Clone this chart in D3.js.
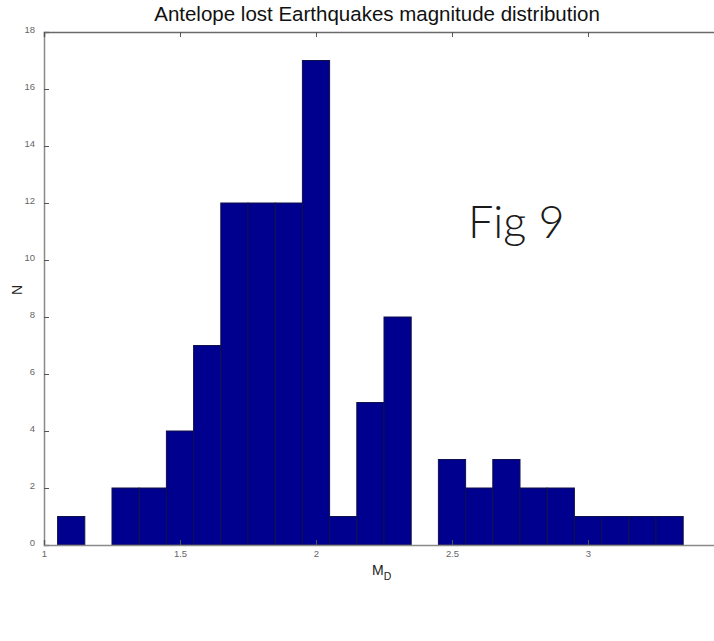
<!DOCTYPE html>
<html>
<head>
<meta charset="utf-8">
<script src="https://cdn.jsdelivr.net/npm/d3@7"></script>
<style>
  html, body { margin: 0; padding: 0; background: #fff; }
  svg { display: block; }
</style>
</head>
<body>
<script>
// Histogram of event magnitudes (bin centres, width 0.1)
const binCenters = [1.1, 1.2, 1.3, 1.4, 1.5, 1.6, 1.7, 1.8, 1.9, 2.0, 2.1, 2.2,
                    2.3, 2.4, 2.5, 2.6, 2.7, 2.8, 2.9, 3.0, 3.1, 3.2, 3.3];
const counts     = [1, 0, 2, 2, 4, 7, 12, 12, 12, 17, 1, 5,
                    8, 0, 3, 2, 3, 2, 2, 1, 1, 1, 1];
const binWidth = 0.1;
const xTicks = [1, 1.5, 2, 2.5, 3];
const yTicks = [0, 2, 4, 6, 8, 10, 12, 14, 16, 18];

const W = 714, H = 641;
const plotLeft = 44, plotTop = 32, plotBottom = 545;

const svg = d3.select("body").append("svg").attr("width", W).attr("height", H);

const x = d3.scaleLinear().domain([1, 3.5]).range([plotLeft, plotLeft + 680]);
const y = d3.scaleLinear().domain([0, 18]).range([plotBottom, plotTop]);

// bars
svg.append("g").selectAll("rect")
  .data(binCenters.map((c, i) => ({ c, n: counts[i] })).filter(d => d.n > 0))
  .join("rect")
  .attr("x", d => x(d.c - binWidth / 2))
  .attr("width", d => x(d.c + binWidth / 2) - x(d.c - binWidth / 2))
  .attr("y", d => y(d.n))
  .attr("height", d => y(0) - y(d.n))
  .attr("fill", "#00008F")
  .attr("stroke", "#10104a")
  .attr("stroke-width", 1);

// axes
const axisColor = "#8a8a8a";
const yAxis = d3.axisLeft(y).tickValues(yTicks).tickSize(-5).tickPadding(9).tickFormat(d3.format("d"));
const gy = svg.append("g").attr("transform", `translate(${plotLeft},0)`).call(yAxis);
const xAxis = d3.axisBottom(x).tickValues(xTicks).tickSize(-5).tickPadding(7).tickFormat(d => d);
const gx = svg.append("g").attr("transform", `translate(0,${plotBottom})`).call(xAxis);
const xTop = d3.axisTop(x).tickValues(xTicks).tickSize(-5).tickFormat("");
const gt = svg.append("g").attr("transform", `translate(0,${plotTop})`).call(xTop);

[gy, gx, gt].forEach(g => {
  g.select(".domain").attr("stroke", axisColor).attr("stroke-width", 1.5);
  g.selectAll(".tick line").attr("stroke", "#555");
  g.selectAll(".tick text").attr("fill", "#666").attr("font-family", "Liberation Sans, Arial, sans-serif").attr("font-size", 9.5);
});
gt.select(".domain").attr("stroke", "#6a6a6a");
gy.selectAll(".tick text").attr("dy", "0.1em");
gx.selectAll(".tick text").attr("dy", "0.5em");

// title
svg.append("text")
  .attr("x", 377).attr("y", 21)
  .attr("text-anchor", "middle")
  .attr("font-family", "Liberation Sans, Arial, sans-serif")
  .attr("font-size", 20.5)
  .attr("fill", "#111")
  .text("Antelope lost Earthquakes magnitude distribution");

// axis labels
svg.append("text")
  .attr("transform", "translate(22,290) rotate(-90)")
  .attr("text-anchor", "middle")
  .attr("font-family", "Liberation Sans, Arial, sans-serif")
  .attr("font-size", 14)
  .attr("fill", "#222")
  .text("N");

const mlab = svg.append("text")
  .attr("x", 372).attr("y", 575)
  .attr("font-family", "Liberation Sans, Arial, sans-serif")
  .attr("font-size", 14)
  .attr("fill", "#222");
mlab.append("tspan").text("M");
mlab.append("tspan").attr("font-size", 10.5).attr("dy", 5).text("D");

// figure tag
svg.append("text")
  .attr("x", 468).attr("y", 238)
  .attr("font-family", "Lato, 'Open Sans', sans-serif")
  .attr("font-weight", 300)
  .attr("font-size", 45)
  .attr("fill", "#1a1a1a")
  .text("Fig 9");
</script>
</body>
</html>
